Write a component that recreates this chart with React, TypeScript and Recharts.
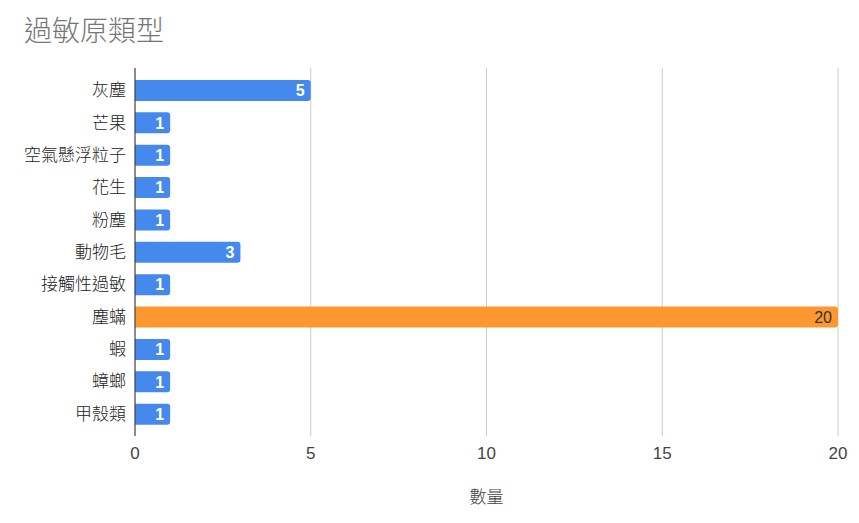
import React from "react";
import { BarChart, Bar, XAxis, YAxis, CartesianGrid, Cell, LabelList } from "recharts";

const categories = [
  "灰塵", "芒果", "空氣懸浮粒子", "花生", "粉塵", "動物毛",
  "接觸性過敏", "塵蟎", "蝦", "蟑螂", "甲殼類",
];
const counts = [5, 1, 1, 1, 1, 3, 1, 20, 1, 1, 1];
const xTicks = [0, 5, 10, 15, 20];

const FONT = "Arial, 'Liberation Sans', 'Noto Sans CJK TC', sans-serif";
const BLUE = "#4689ec";
const ORANGE = "#fc982f";

const maxCount = Math.max(...counts);
const data = categories.map((name, i) => ({ name, count: counts[i] }));

function BarValue(props: any) {
  const { x, y, width, height, value } = props;
  const top = value === maxCount;
  return (
    <text
      x={x + width - 6}
      y={y + height / 2}
      dy="0.36em"
      textAnchor="end"
      fontSize={16}
      fontFamily={FONT}
      fontWeight={top ? 400 : 700}
      fill={top ? "#333" : "#fff"}
    >
      {value}
    </text>
  );
}

export default function App() {
  return (
    <div style={{ position: "absolute", left: 0, top: 0, width: 859, height: 523, background: "#fff" }}>
      <div
        style={{
          position: "absolute", left: 24, top: 14, fontSize: 28, color: "#757575",
          fontFamily: FONT, fontWeight: 300, lineHeight: "36px", whiteSpace: "nowrap",
        }}
      >
        過敏原類型
      </div>
      <BarChart
        width={859}
        height={523}
        data={data}
        layout="vertical"
        margin={{ top: 68, right: 21, bottom: 0, left: 0 }}
        barSize={21}
      >
        <CartesianGrid horizontal={false} stroke="#cccccc" />
        <XAxis
          type="number"
          domain={[0, 20]}
          ticks={xTicks}
          height={87}
          axisLine={false}
          tickLine={false}
          tickSize={0}
          tickMargin={11}
          tick={{ fill: "#444", fontSize: 17, fontFamily: FONT }}
          label={{ value: "數量", position: "insideBottom", offset: 20, fill: "#444", fontSize: 17, fontWeight: 300, fontFamily: FONT }}
        />
        <YAxis
          type="category"
          dataKey="name"
          width={135}
          padding={{ top: 6, bottom: 6 }}
          axisLine={{ stroke: "#333" }}
          tickLine={false}
          tickSize={0}
          tickMargin={9}
          interval={0}
          tick={{ fill: "#222", fontSize: 17, fontWeight: 300, fontFamily: FONT }}
        />
        <Bar dataKey="count" radius={[0, 3, 3, 0]} isAnimationActive={false}>
          {data.map((d) => (
            <Cell key={d.name} fill={d.count === maxCount ? ORANGE : BLUE} />
          ))}
          <LabelList dataKey="count" content={<BarValue />} />
        </Bar>
      </BarChart>
    </div>
  );
}
